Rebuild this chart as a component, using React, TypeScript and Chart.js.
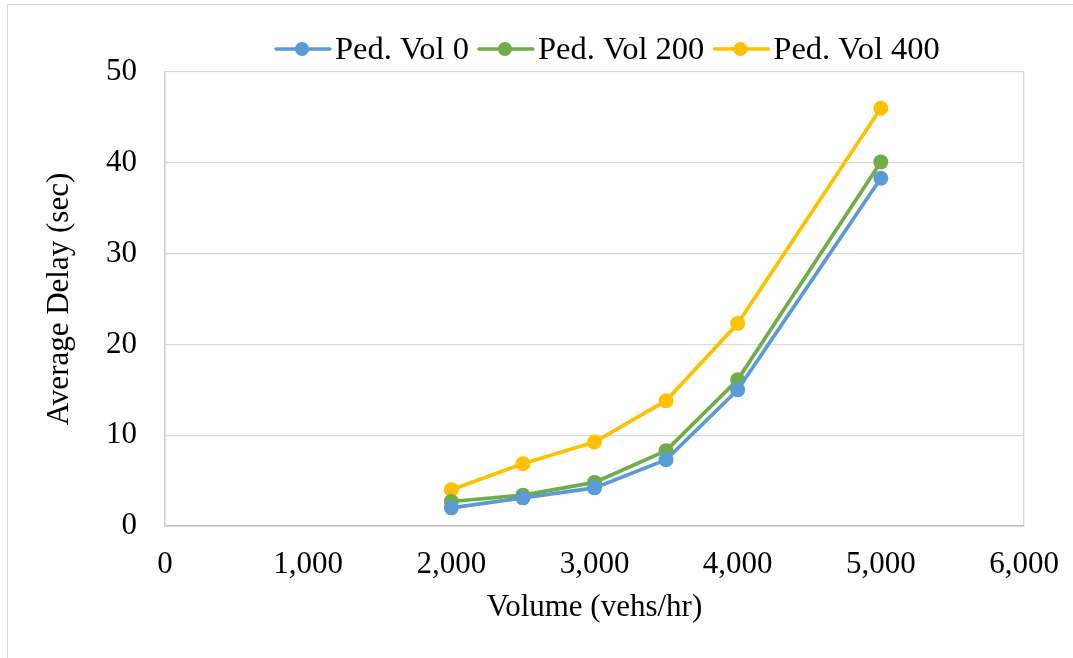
import React, { useEffect, useRef } from "react";
import { Chart, registerables } from "chart.js";

Chart.register(...registerables);

const volumes = [2000, 2500, 3000, 3500, 4000, 5000];
const pedVol0 = [2.0, 3.1, 4.2, 7.3, 15.0, 38.3];
const pedVol200 = [2.7, 3.4, 4.8, 8.3, 16.1, 40.1];
const pedVol400 = [4.0, 6.85, 9.25, 13.8, 22.3, 46.0];
const seriesNames = ["Ped. Vol 0", "Ped. Vol 200", "Ped. Vol 400"];
const seriesColors = ["#5b9bd5", "#70ad47", "#ffc000"];

const FONT = "'Liberation Serif', 'Times New Roman', serif";
const FS = 31;
const LEGEND_FS = 32.5;

const legendPlugin = {
  id: "customLegend",
  afterDraw(chart: any) {
    const ctx = chart.ctx;
    ctx.save();
    ctx.font = `${LEGEND_FS}px ${FONT}`;
    ctx.textBaseline = "alphabetic";
    ctx.textAlign = "left";
    let x = 276;
    const y = 49;
    chart.data.datasets.forEach((ds: any) => {
      ctx.strokeStyle = ds.borderColor;
      ctx.lineWidth = 3.5;
      ctx.lineCap = "round";
      ctx.beginPath();
      ctx.moveTo(x, y);
      ctx.lineTo(x + 54, y);
      ctx.stroke();
      ctx.fillStyle = ds.borderColor;
      ctx.beginPath();
      ctx.arc(x + 26, y, 7, 0, Math.PI * 2);
      ctx.fill();
      ctx.fillStyle = "#000";
      ctx.fillText(ds.label, x + 59, 58.5);
      x += 59 + ctx.measureText(ds.label).width + 10;
    });
    ctx.restore();
  },
};

export default function App() {
  const ref = useRef<HTMLCanvasElement>(null);
  useEffect(() => {
    if (!ref.current) return;
    const series = [pedVol0, pedVol200, pedVol400];
    const chart = new Chart(ref.current, {
      type: "line",
      data: {
        datasets: series.map((vals, i) => ({
          label: seriesNames[i],
          data: volumes.map((v, j) => ({ x: v, y: vals[j] })),
          borderColor: seriesColors[i],
          backgroundColor: seriesColors[i],
          borderWidth: 3.7,
          pointRadius: 7.5,
          pointBorderWidth: 0,
          pointHoverRadius: 7.5,
          tension: 0,
        })),
      },
      options: {
        responsive: false,
        animation: false,
        layout: { padding: { left: 0, right: 49, top: 72, bottom: 0 } },
        plugins: {
          legend: { display: false },
          tooltip: { enabled: false },
        },
        scales: {
          x: {
            type: "linear",
            min: 0,
            max: 6000,
            afterFit: (s: any) => {
              s.height = 658 - 526;
              s.paddingRight = 0;
              s.paddingLeft = 0;
            },
            ticks: {
              stepSize: 1000,
              padding: 20,
              color: "#000",
              font: { family: FONT, size: FS },
              callback: (v: any) => Number(v).toLocaleString("en-US"),
            },
            grid: {
              drawTicks: false,
              color: (c: any) =>
                c.index === 0 || c.tick?.value === 6000 ? "#d9d9d9" : "rgba(0,0,0,0)",
              lineWidth: 1.3,
            },
            border: { display: true, color: "#bfbfbf", width: 1.5 },
            title: {
              display: true,
              text: "Volume (vehs/hr)",
              color: "#000",
              font: { family: FONT, size: FS },
              padding: { top: 0, bottom: 32 },
            },
          },
          y: {
            min: 0,
            max: 50,
            afterFit: (s: any) => {
              s.width = 165;
            },
            ticks: {
              stepSize: 10,
              padding: 28,
              color: "#000",
              font: { family: FONT, size: FS },
            },
            grid: { drawTicks: false, color: "#d9d9d9", lineWidth: 1.3 },
            border: { display: true, color: "#d0d0d0", width: 1.5 },
            title: {
              display: true,
              text: "Average Delay (sec)",
              color: "#000",
              font: { family: FONT, size: FS },
              padding: { top: 41, bottom: 0 },
            },
          },
        },
      },
      plugins: [legendPlugin],
    });
    return () => chart.destroy();
  }, []);
  return (
    <div style={{ position: "fixed", left: 0, top: 0, width: 1073, height: 658, background: "#fff", overflow: "hidden" }}>
      <div
        style={{
          position: "absolute",
          left: 7,
          top: 4,
          width: 1100,
          height: 700,
          borderLeft: "1px solid #d9d9d9",
          borderTop: "1px solid #d9d9d9",
        }}
      />
      <canvas ref={ref} width={1073} height={658} style={{ position: "absolute", left: 0, top: 0 }} />
    </div>
  );
}
